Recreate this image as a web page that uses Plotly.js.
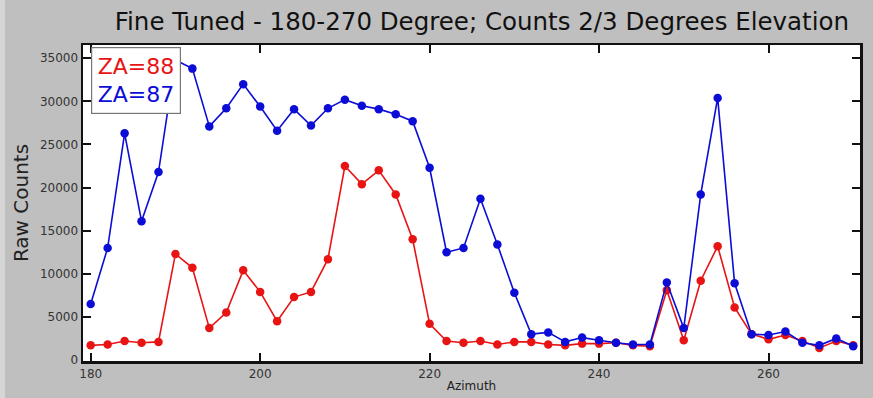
<!DOCTYPE html>
<html>
<head>
<meta charset="utf-8">
<script src="https://cdn.plot.ly/plotly-3.0.1.min.js"></script>
<style>html,body{margin:0;padding:0;background:#bebebe;}#chart{width:873px;height:398px;}</style>
</head>
<body>
<div id="chart"></div>
<script>
// Azimuth (degrees)
const azimuth = [180,182,184,186,188,190,192,194,196,198,200,202,204,206,208,210,212,214,216,218,220,222,224,226,228,230,232,234,236,238,240,242,244,246,248,250,252,254,256,258,260,262,264,266,268,270];
// ZA=88 raw counts
const za88 = [1700,1800,2200,2000,2100,12300,10700,3700,5500,10400,7900,4500,7300,7900,11700,22500,20400,22000,19200,14000,4200,2200,2000,2200,1800,2100,2100,1800,1700,1900,1900,2000,1700,1600,8100,2300,9200,13200,6100,3000,2400,2900,2200,1400,2200,1700];
// ZA=87 raw counts
const za87 = [6500,13000,26300,16100,21800,34800,33800,27100,29200,32000,29400,26600,29100,27200,29200,30200,29500,29100,28500,27700,22300,12500,13000,18700,13400,7800,3000,3200,2100,2600,2300,2000,1800,1800,9000,3700,19200,30400,8900,3000,2900,3300,2000,1700,2500,1600];
const xTicks = [180,200,220,240,260];
const yTicks = [0,5000,10000,15000,20000,25000,30000,35000];
const seriesNames = ['ZA=88','ZA=87'];
const redC = 'rgb(232,20,20)';
const blueC = 'rgb(12,12,215)';

const traces = [
  {x: azimuth, y: za88, name: seriesNames[0], type: 'scatter', mode: 'lines+markers',
   line: {color: redC, width: 1.6}, marker: {color: redC, size: 8.5}},
  {x: azimuth, y: za87, name: seriesNames[1], type: 'scatter', mode: 'lines+markers',
   line: {color: blueC, width: 1.6}, marker: {color: blueC, size: 8.5}}
];

const axCommon = {
  showline: true, linecolor: '#111', linewidth: 2.5, mirror: 'ticks',
  ticks: 'inside', ticklen: 8, tickwidth: 2, tickcolor: '#111',
  showgrid: false, zeroline: false,
  tickfont: {family: 'DejaVu Sans', size: 12, color: '#333'}
};

const layout = {
  width: 873, height: 398,
  paper_bgcolor: '#bfbfbf', plot_bgcolor: '#ffffff',
  margin: {l: 83, r: 13, t: 45, b: 37},
  showlegend: false,
  title: {text: 'Fine Tuned - 180-270 Degree; Counts 2/3 Degrees Elevation',
          font: {family: 'DejaVu Sans', size: 24.5, color: '#111'},
          x: 0.552, xanchor: 'center', y: 0.945, yanchor: 'middle'},
  xaxis: Object.assign({}, axCommon, {
    range: [179.09, 270.8], tickvals: xTicks, ticktext: xTicks.map(String),
    title: {text: 'Azimuth', font: {family: 'DejaVu Sans', size: 12, color: '#222'}, standoff: 2}
  }),
  yaxis: Object.assign({}, axCommon, {
    range: [-116, 36540], tickvals: yTicks, ticktext: yTicks.map(String),
    title: {text: 'Raw Counts', font: {family: 'DejaVu Sans', size: 20, color: '#222'}, standoff: 6}
  }),
  annotations: [{
    xref: 'paper', yref: 'paper', x: 0.0103, y: 0.994, xanchor: 'left', yanchor: 'top',
    text: '<span style="color:' + redC + '">' + seriesNames[0] + '</span><br><span style="color:' + blueC + '">' + seriesNames[1] + '</span>',
    showarrow: false, align: 'left',
    font: {family: 'DejaVu Sans', size: 22},
    bgcolor: '#ffffff', bordercolor: '#777', borderwidth: 1.2, borderpad: 5.5
  }],
  shapes: [{type: 'rect', xref: 'paper', yref: 'paper', x0: -83/777, x1: -78/777, y0: -37/316, y1: 1 + 45/316,
            fillcolor: '#d6d6d6', line: {width: 0}, layer: 'below'}]
};

Plotly.newPlot('chart', traces, layout, {displayModeBar: false, staticPlot: true});
</script>
</body>
</html>
